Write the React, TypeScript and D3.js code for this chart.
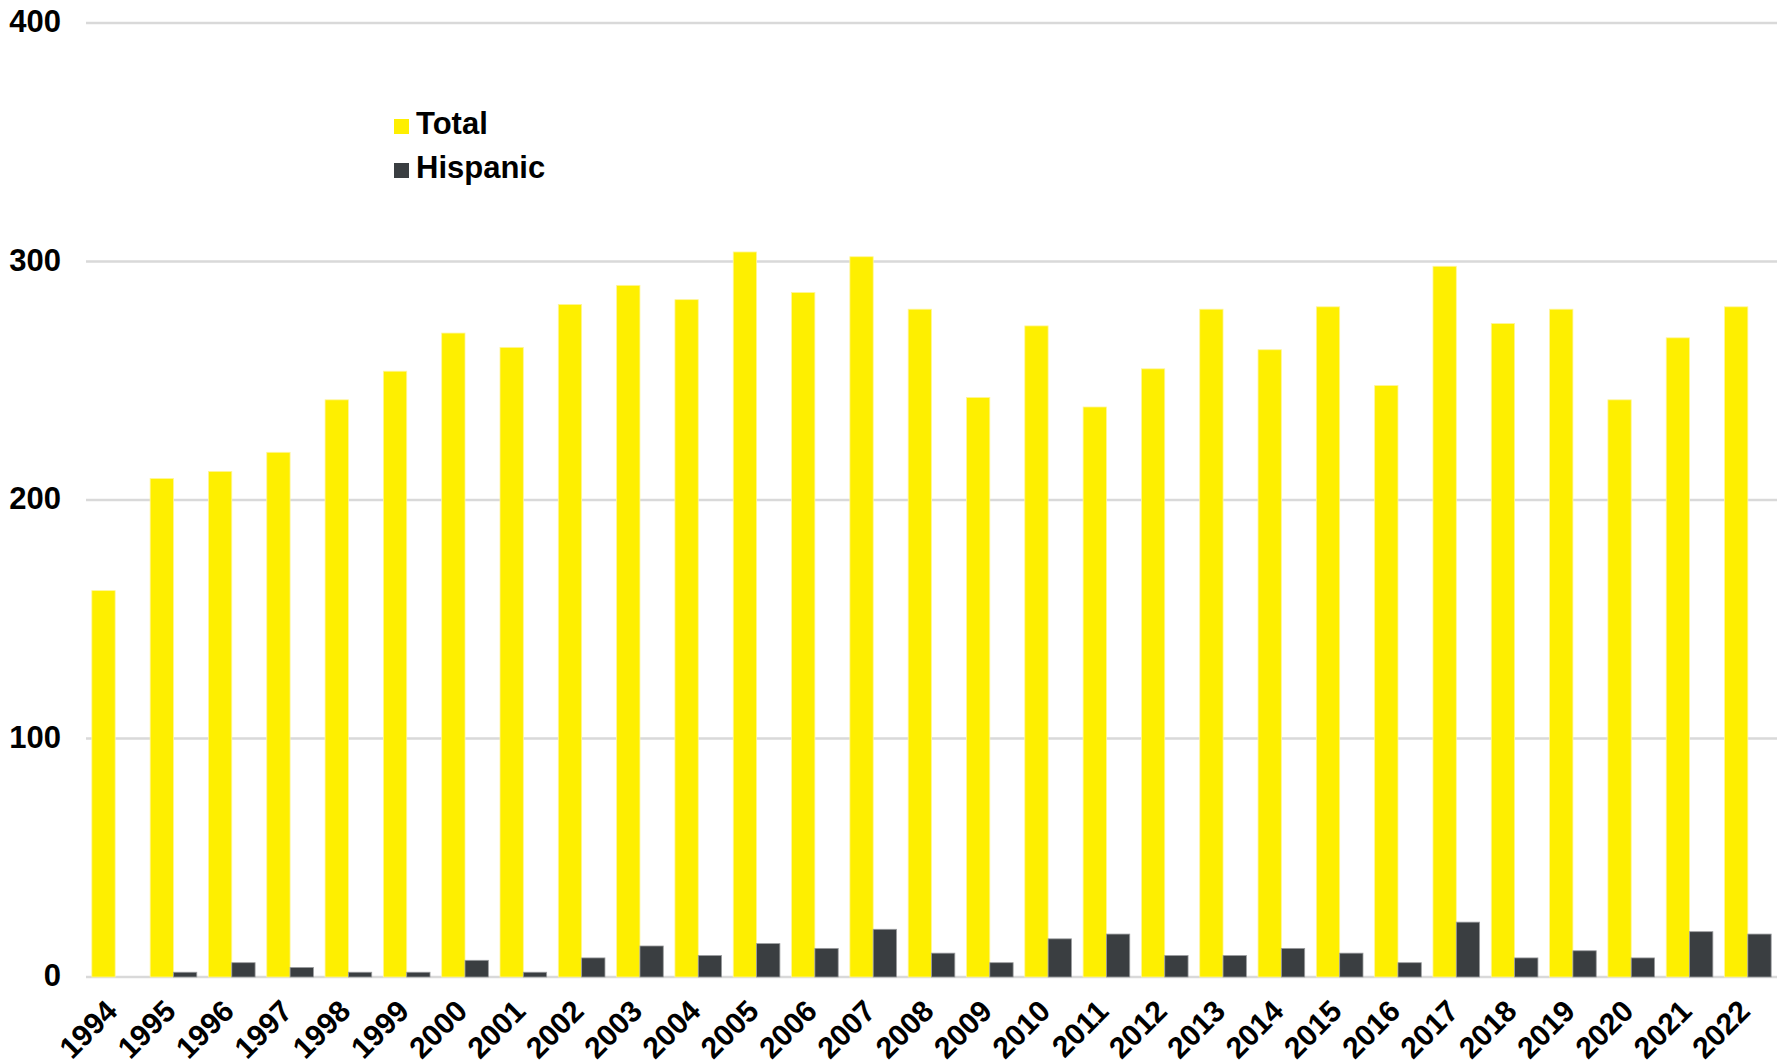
import React from "react";
import * as d3 from "d3";

const years = ["1994","1995","1996","1997","1998","1999","2000","2001","2002","2003","2004","2005","2006","2007","2008","2009","2010","2011","2012","2013","2014","2015","2016","2017","2018","2019","2020","2021","2022"];
const totalValues = [162,209,212,220,242,254,270,264,282,290,284,304,287,302,280,243,273,239,255,280,263,281,248,298,274,280,242,268,281];
const hispanicValues = [0,2,6,4,2,2,7,2,8,13,9,14,12,20,10,6,16,18,9,9,12,10,6,23,8,11,8,19,18];
const seriesNames = ["Total", "Hispanic"];
const seriesColors = ["#FEEF00", "#3A3E41"];
const seriesStrokes = ["#FFF59A", "#9A9C9E"];
const yTicks = [0, 100, 200, 300, 400];

const W = 1788;
const H = 1064;
const FONT = "'Liberation Sans', Arial, Helvetica, sans-serif";

export default function App() {
  const x0 = d3.scaleBand<string>().domain(years).range([86, 1777]).padding(0);
  const x1 = d3.scaleBand<string>().domain(seriesNames).range([0, x0.step()]).paddingInner(0).paddingOuter(0.25);
  const y = d3.scaleLinear().domain([0, 400]).range([977, 23]);
  const seriesData = [totalValues, hispanicValues];

  return (
    <svg width={W} height={H} style={{ position: "absolute", left: 0, top: 0, background: "#fff" }} fontFamily={FONT}>
      {yTicks.map((t) => (
        <g key={t}>
          <line x1={86} x2={1777} y1={y(t)} y2={y(t)} stroke="#D9D9D9" strokeWidth={2.5} />
          <text x={61} y={y(t) + 9} textAnchor="end" fontSize={31} fontWeight="bold" fill="#000">{t}</text>
        </g>
      ))}
      {years.map((yr, i) => (
        <g key={yr}>
          {seriesNames.map((s, k) => {
            const v = seriesData[k][i];
            if (v <= 0) return null;
            const bx = (x0(yr) as number) + (x1(s) as number);
            return (
              <rect key={s} x={bx} y={y(v)} width={x1.bandwidth()} height={y(0) - y(v)}
                fill={seriesColors[k]} stroke={seriesStrokes[k]} strokeWidth={0.8} />
            );
          })}
        </g>
      ))}
      {years.map((yr) => {
        const cx = (x0(yr) as number) + x0.bandwidth() / 2 + 4;
        const cy = 1013;
        return (
          <text key={yr} x={cx} y={cy} transform={`rotate(-45 ${cx} ${cy})`} textAnchor="end"
            fontSize={30} fontWeight="bold" fill="#000">{yr}</text>
        );
      })}
      {seriesNames.map((s, k) => (
        <g key={s}>
          <rect x={394} y={119 + k * 44} width={15} height={15} fill={seriesColors[k]} />
          <text x={416} y={134 + k * 44} fontSize={31} fontWeight="bold" fill="#000">{s}</text>
        </g>
      ))}
    </svg>
  );
}
